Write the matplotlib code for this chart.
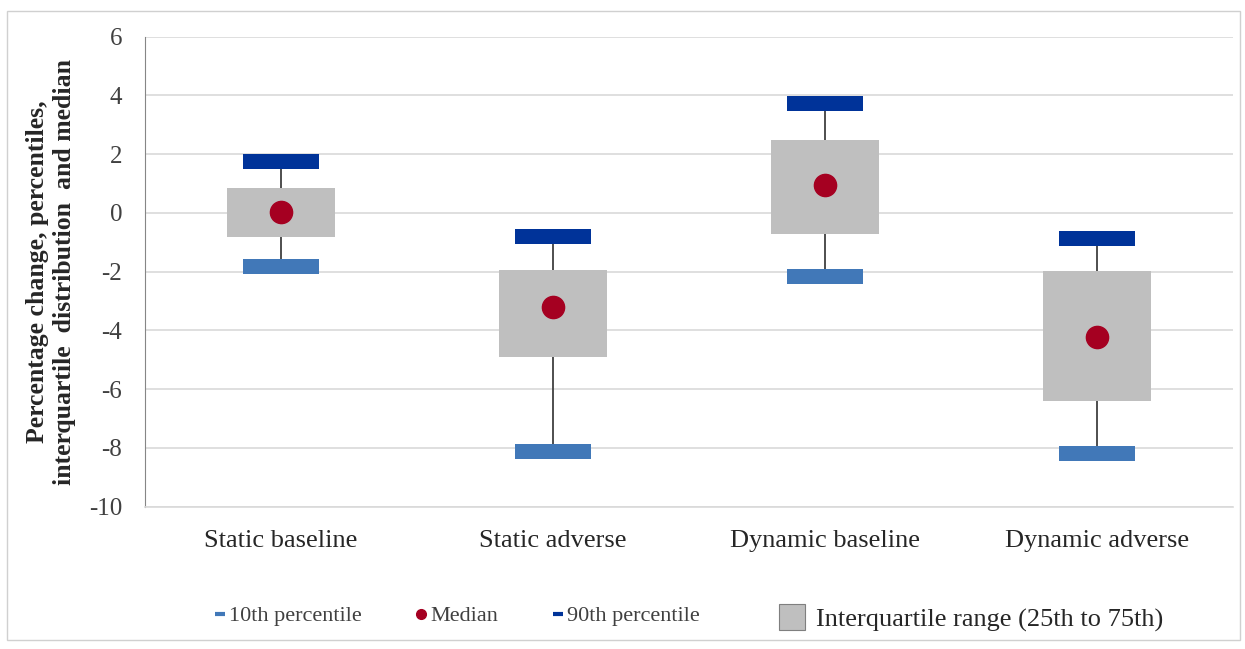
import numpy as np
import matplotlib
matplotlib.use("Agg")
import matplotlib.pyplot as plt
from matplotlib.lines import Line2D
from matplotlib.patches import Patch, Rectangle

categories = ['Static baseline', 'Static adverse', 'Dynamic baseline', 'Dynamic adverse']
p10 = [-1.82, -8.13, -2.17, -8.18]
p25 = [-0.81, -4.90, -0.72, -6.39]
median = [0.04, -3.19, 0.94, -4.23]
p75 = [0.84, -1.95, 2.48, -1.97]
p90 = [1.76, -0.81, 3.73, -0.86]
yticks = [6, 4, 2, 0, -2, -4, -6, -8, -10]

c_p10 = '#4178b8'
c_p90 = '#003399'
c_box = '#bfbfbf'
c_med = '#a50021'
serif = ['Liberation Serif', 'DejaVu Serif']

plt.rcParams['font.family'] = serif
plt.rcParams['axes.unicode_minus'] = False

fig = plt.figure(figsize=(12.45, 6.49), dpi=100)
fig.patches.append(Rectangle((7 / 1245, 1 - 640 / 649), 1233 / 1245, 629 / 649,
                             transform=fig.transFigure, fill=False,
                             edgecolor='#d0d0d0', lw=1))
ax = fig.add_axes([145 / 1245, 1 - 506.7 / 649, 1088 / 1245, 470 / 649])

x = np.arange(len(categories))
p10 = np.array(p10)
p90 = np.array(p90)
p25 = np.array(p25)
p75 = np.array(p75)

# whiskers (high-low line) behind the box
ax.vlines(x, p10, p90, color='#404040', lw=1.3, zorder=2)
# interquartile box
ax.bar(x, p75 - p25, bottom=p25, width=0.4, color=c_box, zorder=3)
# percentile markers as short thick bars
mh = 0.5
ax.bar(x, mh, bottom=p90 - mh / 2, width=0.28, color=c_p90, zorder=4)
ax.bar(x, mh, bottom=p10 - mh / 2, width=0.28, color=c_p10, zorder=4)
# median dots
ax.plot(x, median, 'o', color=c_med, markersize=16, zorder=5)

ax.set_xlim(-0.5, len(categories) - 0.5)
ax.set_ylim(-10, 6)
ax.set_yticks(yticks)
ax.set_xticks(x)
ax.set_xticklabels(categories, fontsize=19, color='#262626')
ax.tick_params(axis='y', length=0, pad=16.5, labelsize=18, labelcolor='#404040')
ax.tick_params(axis='x', length=0, pad=17)
ax.grid(axis='y', color='#d9d9d9', lw=1.2, zorder=0)
ax.set_axisbelow(True)
for s in ['top', 'right']:
    ax.spines[s].set_visible(False)
ax.spines['left'].set_color('#868686')
ax.spines['bottom'].set_color('#d9d9d9')
ax.spines['bottom'].set_linewidth(1.2)

ax.set_ylabel('Percentage change, percentiles,\ninterquartile  distribution  and median',
              fontsize=18.5, fontweight='bold', color='#262626', labelpad=9,
              linespacing=1.22)

h1 = [Line2D([], [], ls='none', marker='_', color=c_p10, markersize=7, mew=3),
      Line2D([], [], ls='none', marker='o', color=c_med, markersize=7),
      Line2D([], [], ls='none', marker='_', color=c_p90, markersize=7, mew=3)]
leg1 = fig.legend(h1, ['10th percentile', 'Median', '90th percentile'], ncol=3,
                  loc='center left', bbox_to_anchor=(193 / 1245, 1 - 616 / 649),
                  frameon=False, fontsize=16, handlelength=0.6, handletextpad=0.1,
                  columnspacing=2.4, labelcolor='#404040')
h2 = [Patch(facecolor=c_box, edgecolor='#7f7f7f', lw=0.8)]
leg2 = fig.legend(h2, ['Interquartile range (25th to 75th)'], loc='center left',
                  bbox_to_anchor=(755 / 1245, 1 - 618 / 649), frameon=False,
                  fontsize=19, handlelength=1.0, handleheight=1.1, handletextpad=0.4,
                  labelcolor='#262626')

fig.savefig('out.png', dpi=100)
